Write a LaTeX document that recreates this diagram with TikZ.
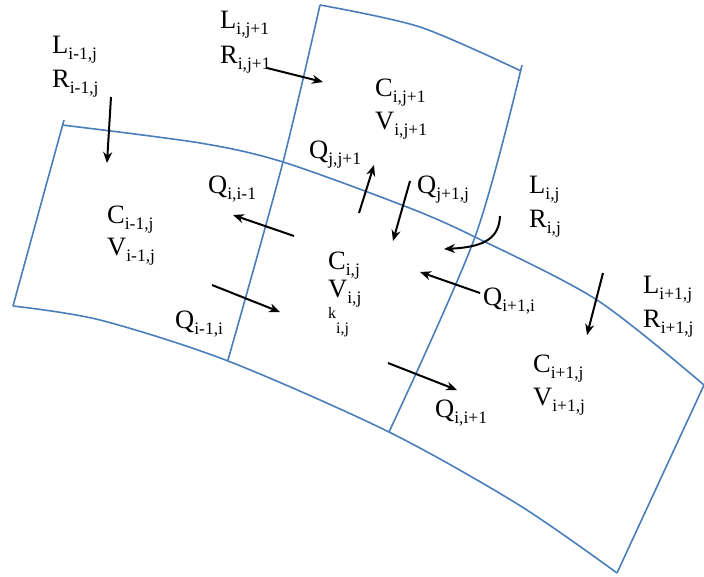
\documentclass[tikz,border=0pt]{standalone}
\usepackage{fontspec}
\setmainfont{Liberation Serif}
\usetikzlibrary{arrows.meta}
\definecolor{cellblue}{RGB}{74,126,187}
\newcommand\lbl[2]{#1\raisebox{-6pt}{\fontsize{17.5}{18}\selectfont #2}}
\begin{document}
\begin{tikzpicture}[x=1pt,y=-1pt,
  cell/.style={draw=cellblue,line width=1.6pt},
  flow/.style={line width=2pt,-{Stealth[length=11pt,width=9pt]}},
  lab/.style={anchor=base west,inner sep=0pt,font=\fontsize{26.5}{30}\selectfont},
  small/.style={anchor=base west,inner sep=0pt,font=\fontsize{16}{18}\selectfont}]
\useasboundingbox (0,0) rectangle (704,576);
% cell outlines
\draw[cell] plot[smooth] coordinates {(320,5) (420,27) (521,71)};
\draw[cell] plot[smooth] coordinates {(320,5) (283,162) (228,360)};
\draw[cell] plot[smooth] coordinates {(522,65) (475,237) (389,432)};
\draw[cell] plot[smooth] coordinates {(62,125) (200,143) (283,162) (407,207) (475,237) (597,300) (704,385)};
\draw[cell] plot[smooth] coordinates {(13,306) (100,320) (228,361) (389,432) (519,505) (617,573)};
\draw[cell] (64,120) -- (13,306);
\draw[cell] (704,385) -- (617,573);
% labels
\node[lab] (L1) at (52,53) {\lbl{L}{i-1,j}};
\node[lab] (R1) at (52,87) {\lbl{R}{i-1,j}};
\node[lab] (L2) at (220,28) {\lbl{L}{i,j+1}};
\node[lab] (R2) at (220,63) {\lbl{R}{i,j+1}};
\node[lab] (C2) at (375,96) {\lbl{C}{i,j+1}};
\node[lab] (V2) at (375,129) {\lbl{V}{i,j+1}};
\node[lab] (Qjj) at (309,158) {\lbl{Q}{j,j+1}};
\node[lab] (Qiim) at (208,193) {\lbl{Q}{i,i-1}};
\node[lab] (Qjpj) at (417,193) {\lbl{Q}{j+1,j}};
\node[lab] (L0) at (529,193) {\lbl{L}{i,j}};
\node[lab] (R0) at (529,227) {\lbl{R}{i,j}};
\node[lab] (C1) at (107,223) {\lbl{C}{i-1,j}};
\node[lab] (V1) at (107,255) {\lbl{V}{i-1,j}};
\node[lab] (C0) at (328,269) {\lbl{C}{i,j}};
\node[lab] (V0) at (328,297) {\lbl{V}{i,j}};
\node[small] (K0) at (328,318) {k\raisebox{-15pt}{i,j}};
\node[lab] (Qipi) at (483,305) {\lbl{Q}{i+1,i}};
\node[lab] (L3) at (643,293) {\lbl{L}{i+1,j}};
\node[lab] (R3) at (643,327) {\lbl{R}{i+1,j}};
\node[lab] (Qimi) at (175,328) {\lbl{Q}{i-1,i}};
\node[lab] (Qiip) at (435,417) {\lbl{Q}{i,i+1}};
\node[lab] (C3) at (533,372) {\lbl{C}{i+1,j}};
\node[lab] (V3) at (533,405) {\lbl{V}{i+1,j}};
% arrow ends
\coordinate (a1s) at (111,97);  \coordinate (a1e) at (107,163);
\coordinate (a2s) at (267,68);  \coordinate (a2e) at (323,82);
\coordinate (a3s) at (294,236); \coordinate (a3e) at (233,215);
\coordinate (a4s) at (212,285); \coordinate (a4e) at (280,312);
\coordinate (a5s) at (359,213); \coordinate (a5e) at (374,165);
\coordinate (a6s) at (410,181); \coordinate (a6e) at (393,241);
\coordinate (a7s) at (500,216); \coordinate (a7e) at (444,249);
\coordinate (a8s) at (480,293); \coordinate (a8e) at (420,272);
\coordinate (a9s) at (603,273); \coordinate (a9e) at (587,335);
\coordinate (a10s) at (388,363); \coordinate (a10e) at (457,390);
\draw[flow] (a1s) -- (a1e);
\draw[flow] (a2s) -- (a2e);
\draw[flow] (a3s) -- (a3e);
\draw[flow] (a4s) -- (a4e);
\draw[flow] (a5s) -- (a5e);
\draw[flow] (a6s) -- (a6e);
\draw[flow] (a7s) .. controls (499,238) and (485,247) .. (a7e);
\draw[flow] (a8s) -- (a8e);
\draw[flow] (a9s) -- (a9e);
\draw[flow] (a10s) -- (a10e);
\end{tikzpicture}
\end{document}
